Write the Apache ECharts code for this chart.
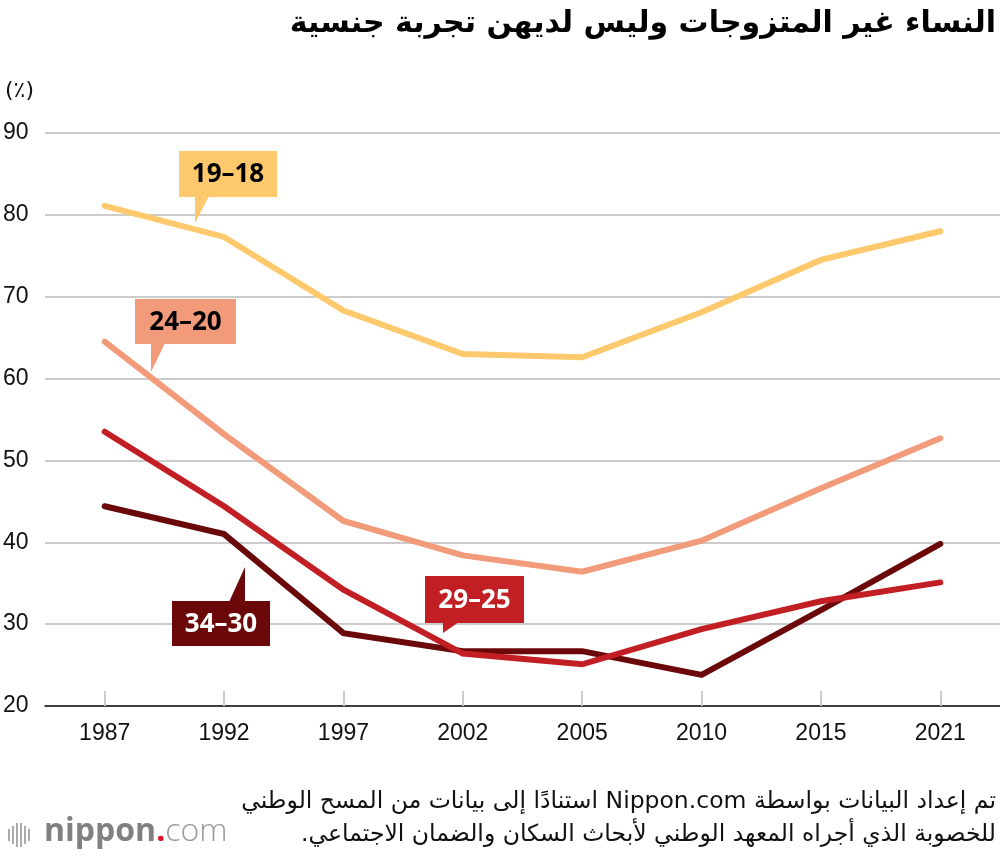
<!DOCTYPE html>
<html><head><meta charset="utf-8">
<script src="https://cdn.jsdelivr.net/npm/echarts@6/dist/echarts.min.js"></script>
<style>html,body{margin:0;padding:0;background:#fff}#c{width:1000px;height:856px}</style>
</head><body><div id="c"></div>
<script>
const years = ['1987','1992','1997','2002','2005','2010','2015','2021'];
const age18_19 = [81.1, 77.3, 68.3, 63.0, 62.6, 68.1, 74.5, 78.0];
const age20_24 = [64.5, 53.2, 42.6, 38.4, 36.4, 40.2, 46.6, 52.7];
const age25_29 = [53.5, 44.4, 34.2, 26.4, 25.1, 29.4, 32.8, 35.1];
const age30_34 = [44.4, 41.0, 28.9, 26.7, 26.7, 23.8, 31.7, 39.8];
const yTicks = [20, 30, 40, 50, 60, 70, 80, 90];

const colors = {a:'#FDC96C', b:'#F29B7A', c:'#C21F24', d:'#6B0809'};
const AR = '"DejaVu Sans", sans-serif';
const NUM = '"Liberation Sans", Arial, sans-serif';
const LBL = '"Open Sans", "DejaVu Sans", sans-serif';
const RLE = '\u202B', PDF = '\u202C';

function callout(x, y, w, h, text, bg, fg, tri) {
  return [
    {type:'rect', shape:{x:x, y:y, width:w, height:h}, style:{fill:bg}, z:10},
    {type:'polygon', shape:{points:tri}, style:{fill:bg}, z:10},
    {type:'text', x:x + w/2, y:y + h/2 + 1, style:{text:text, fill:fg, font:'bold 26px ' + LBL, align:'center', verticalAlign:'middle'}, z:11}
  ];
}
// nippon.com logo bars
const barsIcon = [[8,829,12],[12,826,18],[16,823,24],[20,823,24],[24,826,18],[28,829,12]].map(b => (
  {type:'rect', shape:{x:b[0], y:b[1], width:2, height:b[2]}, style:{fill:'#aaa'}}
));

const chart = echarts.init(document.getElementById('c'), null, {renderer:'canvas'});
const mk = (name, data, color, z) => ({
  name, type:'line', data, symbol:'none', smooth:false, z,
  lineStyle:{color, width:6, cap:'round', join:'miter'}
});
chart.setOption({
  animation:false,
  grid:{left:45, right:0, top:133, bottom:150, containLabel:false},
  xAxis:{type:'category', data:years, boundaryGap:true,
    axisLine:{lineStyle:{color:'#111', width:1.5}},
    axisTick:{show:true, alignWithLabel:true, inside:true, length:15, lineStyle:{color:'#cccccc', width:2}},
    axisLabel:{color:'#111', fontSize:23, fontFamily:NUM, margin:16},
    splitLine:{show:false}},
  yAxis:{type:'value', min:20, max:90, interval:10,
    axisLine:{show:false}, axisTick:{show:false},
    axisLabel:{color:'#111', fontSize:23, fontFamily:NUM, align:'left', margin:42,
      formatter:v => yTicks.includes(v) ? String(v) : ''},
    splitLine:{lineStyle:{color:'#cccccc', width:2}}},
  series:[
    mk('18–19', age18_19, colors.a, 2),
    mk('20–24', age20_24, colors.b, 3),
    mk('30–34', age30_34, colors.d, 4),
    mk('25–29', age25_29, colors.c, 5)
  ],
  graphic:[
    {type:'text', right:4, top:9, style:{text:RLE + 'النساء غير المتزوجات وليس لديهن تجربة جنسية' + PDF, font:'bold 30px ' + AR, fill:'#000', align:'right'}},
    {type:'text', left:5, top:80, style:{text:'(٪)', font:'22px ' + AR, fill:'#111'}},
    {type:'text', right:4, top:790, style:{text:RLE + 'تم إعداد البيانات بواسطة Nippon.com استنادًا إلى بيانات من المسح الوطني' + PDF, font:'23.5px ' + AR, fill:'#111', align:'right'}},
    {type:'text', right:4, top:823, style:{text:RLE + 'للخصوبة الذي أجراه المعهد الوطني لأبحاث السكان والضمان الاجتماعي.' + PDF, font:'23.5px ' + AR, fill:'#111', align:'right'}},
    ...barsIcon,
    {type:'text', left:44, top:816, style:{
      text:'{n|nippon}{dot|.}{com|com}',
      rich:{
        n:{font:'bold 32px ' + LBL, fill:'#808080'},
        dot:{font:'bold 32px ' + LBL, fill:'#e0101e'},
        com:{font:'300 32px ' + LBL, fill:'#999'}
      }}},
    ...callout(179, 151, 98, 46, '19–18', colors.a, '#000', [[195,196],[209,196],[195,223]]),
    ...callout(135, 299, 101, 45, '24–20', colors.b, '#000', [[151,343],[165,343],[151,372]]),
    ...callout(172, 601, 98, 45, '34–30', colors.d, '#fff', [[229,602],[245,602],[245,567]]),
    ...callout(425, 576, 99, 47, '29–25', colors.c, '#fff', [[443,622],[459,622],[443,633]])
  ]
});
</script></body></html>
